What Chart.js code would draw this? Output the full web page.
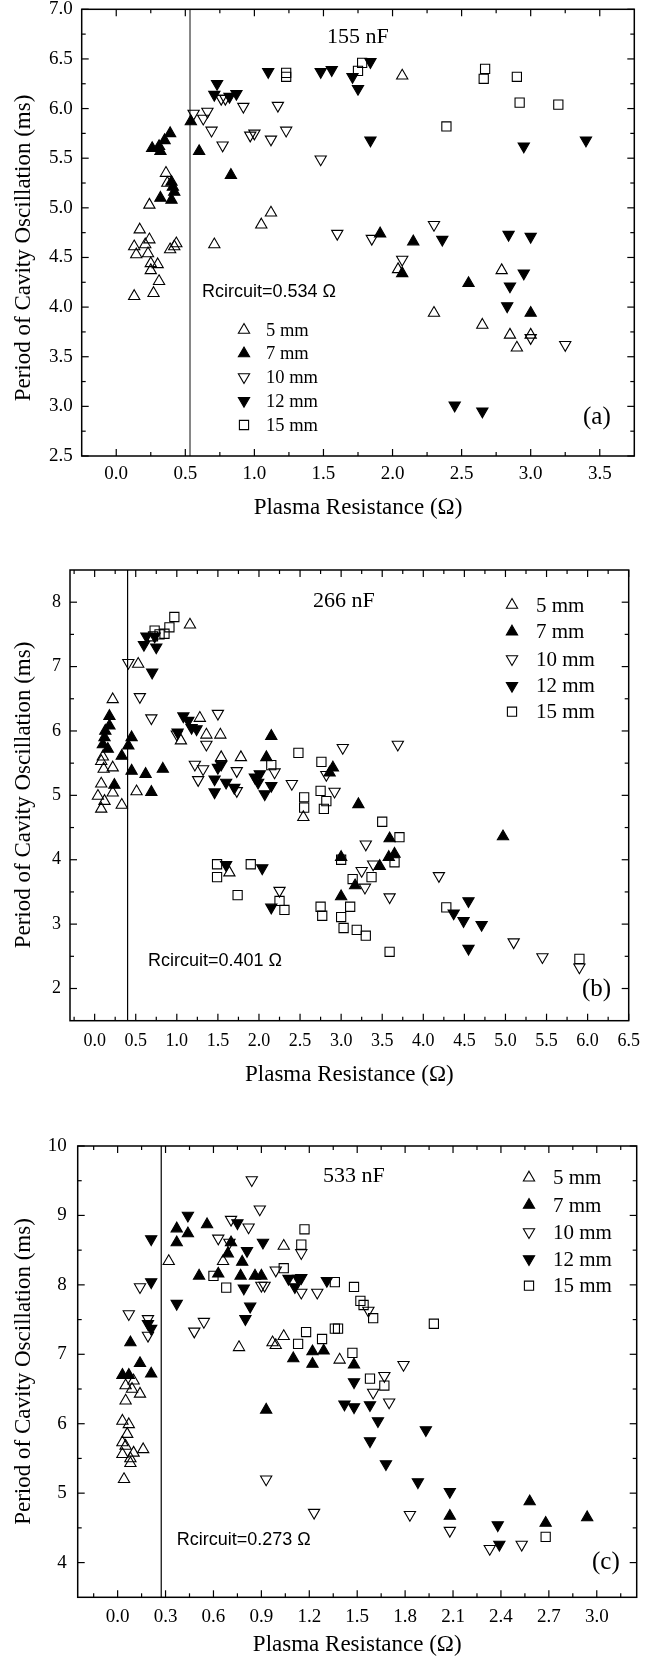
<!DOCTYPE html>
<html><head><meta charset="utf-8">
<script src="https://cdn.jsdelivr.net/npm/chart.js@4.4.1/dist/chart.umd.min.js"></script>
<style>
html,body{margin:0;padding:0;background:#fff;}
#wrap{position:relative;width:663px;height:1666px;overflow:hidden;background:#fff;}
canvas{position:absolute;left:0;top:0;}
</style></head><body><div id="wrap">
<canvas id="ca" width="663" height="1666"></canvas>
<canvas id="cb" width="663" height="1666"></canvas>
<canvas id="cc" width="663" height="1666"></canvas>
</div>
<script>
// ---------- series labels ----------
const seriesLabels = ['5 mm', '7 mm', '10 mm', '12 mm', '15 mm'];
const xTitle = 'Plasma Resistance (\u03A9)';
const yTitle = 'Period of Cavity Oscillation (ms)';

// ---------- panel (a) 155 nF ----------
const a5x = [0.13,0.145,0.17,0.21,0.24,0.23,0.24,0.25,0.25,0.30,0.36,0.37,0.39,0.42,0.435,0.13,0.27,0.31,0.71,1.05,1.12,2.07,2.04,2.30,2.65,2.79,2.85,2.90,3.00];
const a5y = [4.61,4.53,4.78,4.63,4.68,4.54,5.03,4.44,4.37,4.43,5.35,5.25,4.58,4.61,4.64,4.11,4.14,4.26,4.63,4.83,4.95,6.33,4.38,3.94,3.82,4.37,3.72,3.59,3.72];
const a7x = [0.39,0.35,0.31,0.26,0.32,0.32,0.40,0.40,0.41,0.42,0.54,0.60,0.83,1.91,2.15,2.07,2.55,3.00];
const a7y = [5.75,5.68,5.62,5.60,5.57,5.10,5.08,5.26,5.21,5.16,5.87,5.57,5.33,4.74,4.66,4.34,4.24,3.94];
const a10x = [0.56,0.63,0.66,0.69,0.77,0.76,0.79,0.92,0.97,1.00,1.12,1.17,1.23,1.48,1.60,1.85,2.30,2.07,3.00,3.25];
const a10y = [5.95,5.90,5.97,5.78,5.63,6.10,6.10,6.02,5.73,5.75,5.69,6.03,5.78,5.49,4.74,4.69,4.83,4.48,3.69,3.62];
const a12x = [0.73,0.71,0.82,0.87,1.10,1.48,1.56,1.71,1.75,1.84,1.84,2.95,3.40,2.36,2.84,3.00,2.95,2.85,2.83,2.45,2.65];
const a12y = [6.25,6.14,6.12,6.15,6.37,6.37,6.39,6.32,6.20,6.47,5.68,5.62,5.68,4.68,4.73,4.71,4.34,4.21,4.01,3.01,2.95];
const a15x = [1.23,1.23,1.78,1.75,2.67,2.66,2.90,2.92,3.20,2.39];
const a15y = [6.36,6.32,6.46,6.38,6.40,6.30,6.32,6.06,6.04,5.82];
const aXTicks = [0.0,0.5,1.0,1.5,2.0,2.5,3.0,3.5];
const aYTicks = [2.5,3.0,3.5,4.0,4.5,5.0,5.5,6.0,6.5,7.0];
const aRc = [0.534];

// ---------- panel (b) 266 nF ----------
const b5x = [0.22,0.53,1.16,1.28,1.05,1.36,1.53,1.54,1.78,0.08,0.11,0.22,0.08,0.51,0.04,0.12,0.08,0.22,0.33,2.54,1.64,0.10];
const b5y = [6.49,7.04,7.65,6.20,5.85,5.94,5.94,5.59,5.59,5.53,5.41,5.43,5.18,5.06,4.99,4.91,4.79,5.04,4.85,4.66,3.80,5.60];
const b7x = [0.18,0.18,0.13,0.12,0.10,0.16,0.45,0.41,0.33,0.45,0.62,0.83,0.24,0.69,2.15,2.09,2.90,2.86,3.00,3.00,3.21,3.59,3.65,3.58,3.47,3.17,4.97];
const b7y = [6.23,6.08,6.00,5.90,5.79,5.72,5.90,5.77,5.61,5.38,5.33,5.41,5.16,5.05,5.92,5.59,5.43,5.35,4.04,3.43,4.86,4.33,4.09,4.04,3.90,3.60,4.36];
const b10x = [0.41,0.55,0.69,1.50,1.36,1.00,1.22,1.32,1.26,1.73,1.73,2.19,2.40,2.82,2.92,3.02,3.69,2.25,3.30,3.25,3.39,3.29,3.59,4.19,5.10,5.45,5.90];
const b10y = [7.06,6.53,6.20,6.27,5.79,5.95,5.48,5.41,5.24,5.38,5.07,5.36,5.18,5.32,5.06,5.74,5.79,3.52,4.24,3.83,3.93,3.57,3.42,3.75,2.72,2.49,2.33];
const b12x = [0.63,0.60,0.73,0.75,0.70,1.08,1.14,1.18,1.24,1.01,1.54,1.50,1.46,1.60,1.70,1.95,2.01,1.99,2.15,2.07,1.46,1.60,2.04,2.15,4.55,4.37,4.49,4.71,4.55];
const b12y = [7.47,7.34,7.47,7.30,6.91,6.23,6.16,6.05,6.03,5.98,5.48,5.43,5.25,5.20,5.12,5.28,5.33,5.20,5.15,5.02,5.05,3.92,3.87,3.26,3.36,3.17,3.05,2.99,2.62];
const b15x = [0.97,0.91,0.85,0.73,0.71,0.79,2.48,2.76,2.15,2.55,2.55,2.75,2.82,2.79,1.49,1.49,1.74,1.90,2.25,2.31,2.75,2.77,3.00,3.00,3.03,3.11,3.14,3.50,3.71,3.65,3.37,3.19,3.30,3.59,4.28,5.90];
const b15y = [7.77,7.61,7.51,7.56,7.47,7.50,5.66,5.52,5.47,4.97,4.81,5.07,4.91,4.79,3.93,3.73,3.45,3.93,3.36,3.22,3.27,3.13,4.00,3.11,2.94,3.27,3.70,4.59,4.35,3.96,3.73,2.91,2.82,2.57,3.26,2.46];
const bXTicks = [0.0,0.5,1.0,1.5,2.0,2.5,3.0,3.5,4.0,4.5,5.0,5.5,6.0,6.5];
const bYTicks = [2,3,4,5,6,7,8];
const bRc = [0.401];

// ---------- panel (c) 533 nF ----------
const c5x = [0.32,0.66,1.04,0.76,0.97,0.99,1.04,1.39,0.05,0.10,0.09,0.05,0.14,0.03,0.07,0.06,0.03,0.05,0.10,0.03,0.08,0.08,0.16,0.04];
const c5y = [8.34,8.34,8.56,7.10,7.17,7.13,7.26,6.92,6.55,6.62,6.50,6.33,6.43,6.04,5.99,5.85,5.73,5.68,5.58,5.56,5.50,5.43,5.63,5.20];
const c7x = [0.37,0.37,0.44,0.56,0.51,0.63,0.69,0.71,0.78,0.77,0.86,0.90,0.08,0.14,0.03,0.07,0.21,1.10,1.22,1.22,1.29,1.48,0.93,2.08,2.58,2.68,2.94];
const c7y = [8.81,8.61,8.74,8.87,8.13,8.16,8.45,8.61,8.33,8.13,8.13,8.13,7.17,6.87,6.70,6.70,6.72,6.94,6.86,7.04,7.05,6.85,6.20,4.67,4.88,4.57,4.65];
const c10x = [0.84,0.89,0.71,0.82,0.63,0.70,1.15,0.99,0.90,0.92,1.15,1.25,0.14,0.07,0.19,0.19,0.48,0.54,1.57,1.79,1.67,1.60,1.70,1.83,2.08,2.33,2.53,0.93,1.23];
const c10y = [9.51,9.09,8.94,8.83,8.67,8.61,8.46,8.21,7.99,7.99,7.89,7.89,7.97,7.58,7.51,7.27,7.33,7.47,7.63,6.85,6.69,6.45,6.31,4.69,4.46,4.20,4.26,5.20,4.72];
const c12x = [0.21,0.21,0.19,0.21,0.37,0.44,0.75,0.81,0.91,0.79,0.83,0.80,1.07,1.13,1.15,1.11,1.31,1.48,1.42,1.48,1.58,1.63,1.58,1.68,1.93,1.88,2.08,2.38,2.39];
const c12y = [8.66,8.04,7.44,7.37,7.73,9.00,8.89,8.49,8.61,7.95,7.69,7.51,8.09,8.09,8.10,7.97,8.06,6.60,6.28,6.24,6.27,6.04,5.75,5.42,5.91,5.16,5.02,4.54,4.26];
const c15x = [0.60,0.68,1.04,1.17,1.15,1.36,1.48,1.18,1.13,1.28,1.36,1.38,1.47,1.52,1.54,1.60,1.98,1.58,1.67,2.68];
const c15y = [8.13,7.96,8.24,8.80,8.58,8.04,7.97,7.32,7.15,7.22,7.37,7.37,7.02,7.77,7.71,7.52,7.44,6.65,6.55,4.37];
const cXTicks = [0.0,0.3,0.6,0.9,1.2,1.5,1.8,2.1,2.4,2.7,3.0];
const cYTicks = [4,5,6,7,8,9,10];
const cRc = [0.273];

// ---------- styles / layout ----------
const SERIF = "'Liberation Serif','Times New Roman',serif";
const SANS = "'Liberation Sans',Arial,sans-serif";
const markerStyles = [
  {ps:'triangle', rot:0,   filled:false},
  {ps:'triangle', rot:0,   filled:true},
  {ps:'triangle', rot:180, filled:false},
  {ps:'triangle', rot:180, filled:true},
  {ps:'rect',     rot:0,   filled:false}
];
const MR = 6.5;

function zip(xs, ys){ return xs.map((v,i)=>({x:v, y:ys[i]})); }

function drawMarker(ctx, st, x, y, r){
  ctx.beginPath();
  if (st.ps === 'triangle'){
    let rad = st.rot*Math.PI/180;
    ctx.moveTo(x + Math.sin(rad)*r, y - Math.cos(rad)*r);
    rad += 2*Math.PI/3;
    ctx.lineTo(x + Math.sin(rad)*r, y - Math.cos(rad)*r);
    rad += 2*Math.PI/3;
    ctx.lineTo(x + Math.sin(rad)*r, y - Math.cos(rad)*r);
    ctx.closePath();
  } else {
    const s = Math.SQRT1_2*r;
    ctx.rect(x-s, y-s, 2*s, 2*s);
  }
  if (st.filled){ ctx.fillStyle='#000'; ctx.fill(); }
  ctx.stroke();
}

const decor = {
  id:'decor',
  afterDatasetsDraw(chart, args, o){
    const P = o.P; if (!P) return;
    const {ctx, chartArea:a} = chart;
    const sx = chart.scales.x, sy = chart.scales.y;
    ctx.save();
    ctx.strokeStyle = '#000';
    ctx.lineWidth = 1.5;
    ctx.strokeRect(a.left, a.top, a.right-a.left, a.bottom-a.top);
    ctx.lineWidth = 1.2;
    const ln = (x1,y1,x2,y2)=>{ctx.beginPath();ctx.moveTo(x1,y1);ctx.lineTo(x2,y2);ctx.stroke();};
    const minors = (t, lo, hi)=>{
      const out=[]; const st=t[1]-t[0];
      const first=t[0]-st/2; if(first>lo) out.push(first);
      for(let i=0;i<t.length-1;i++) out.push((t[i]+t[i+1])/2);
      const last=t[t.length-1]+st/2; if(last<hi) out.push(last);
      return out;
    };
    const MJ=7, MN=4;
    const xt = (v,len)=>{const p=sx.getPixelForValue(v); ln(p,a.top,p,a.top+len); ln(p,a.bottom,p,a.bottom-len);};
    const yt = (v,len)=>{const p=sy.getPixelForValue(v); ln(a.left,p,a.left+len,p); ln(a.right,p,a.right-len,p);};
    P.xTicks.forEach(v=>xt(v,MJ));
    minors(P.xTicks, P.xMin, P.xMax).forEach(v=>xt(v,MN));
    P.yTicks.forEach(v=>yt(v,MJ));
    minors(P.yTicks, P.yMin, P.yMax).forEach(v=>yt(v,MN));
    // y axis title
    ctx.fillStyle='#000';
    ctx.save();
    ctx.translate(P.yTitleX, P.yTitleY);
    ctx.rotate(-Math.PI/2);
    ctx.textAlign='center';
    ctx.textBaseline='middle';
    ctx.font = '23px '+SERIF;
    ctx.fillText(yTitle, 0, 0);
    ctx.restore();
    // texts
    ctx.textBaseline='alphabetic';
    ctx.textAlign='left';
    ctx.font = '22px '+SERIF;
    ctx.fillText(P.cap, P.capX, P.capY);
    ctx.font = P.rcFont+'px '+SANS;
    ctx.fillText('Rcircuit='+P.rc[0].toFixed(3)+' \u03A9', P.rcX, P.rcY);
    ctx.font = '25px '+SERIF;
    ctx.fillText(P.tag, P.tagX, P.tagY);
    // legend
    ctx.font = P.legFont+'px '+SERIF;
    ctx.textBaseline='middle';
    ctx.lineWidth = 1.1;
    seriesLabels.forEach((lab,i)=>{
      const yy = P.legY[i];
      ctx.strokeStyle='#000';
      drawMarker(ctx, markerStyles[i], P.legSymX, yy, MR);
      ctx.fillStyle='#000';
      ctx.fillText(lab, P.legTextX, yy+1);
    });
    ctx.restore();
  }
};

function build(id, P, xsArr, ysArr){
  const datasets = [{
    label:'Rcircuit', data:[{x:P.rc[0], y:P.yMin},{x:P.rc[0], y:P.yMax}],
    showLine:true, pointRadius:0, pointHoverRadius:0, borderColor:P.rcColor, borderWidth:P.rcWidth, fill:false, order:10
  }];
  seriesLabels.forEach((lab,i)=>{
    const st = markerStyles[i];
    datasets.push({
      label:lab, data:zip(xsArr[i], ysArr[i]),
      pointStyle:st.ps, pointRotation:st.rot, pointRadius:MR, pointHoverRadius:MR,
      borderColor:'#000', borderWidth:1.1,
      backgroundColor: st.filled ? '#000' : 'rgba(255,255,255,0)',
      showLine:false, order:i
    });
  });
  new Chart(document.getElementById(id), {
    type:'scatter',
    data:{datasets},
    options:{
      responsive:false, animation:false, devicePixelRatio:1, events:[],
      layout:{padding:{left:0, top:P.T, right:663-P.R, bottom:1666-P.bottomEdge}},
      plugins:{legend:{display:false}, tooltip:{enabled:false}, decor:{P}},
      scales:{
        x:{type:'linear', min:P.xMin, max:P.xMax,
           grid:{display:false, drawTicks:false}, border:{display:false},
           ticks:{padding:P.xTickPad, color:'#000', font:{family:SERIF, size:P.tickSize}, maxRotation:0, autoSkip:false,
                  callback:(v)=>Number(v).toFixed(1)},
           afterBuildTicks:(s)=>{ s.ticks = P.xTicks.map(v=>({value:v})); },
           afterFit:(s)=>{ s.height = P.bottomEdge - P.B; s.paddingLeft=0; s.paddingRight=0; },
           title:{display:true, text:xTitle, color:'#000', font:{family:SERIF, size:23}, padding:{top:0, bottom:P.xTitlePad}}
        },
        y:{type:'linear', min:P.yMin, max:P.yMax,
           grid:{display:false, drawTicks:false}, border:{display:false},
           ticks:{padding:P.yTickPad, color:'#000', font:{family:SERIF, size:P.tickSize}, autoSkip:false,
                  callback:(v)=>P.yDec>0 ? Number(v).toFixed(P.yDec) : String(Math.round(v))},
           afterBuildTicks:(s)=>{ s.ticks = P.yTicks.map(v=>({value:v})); },
           afterFit:(s)=>{ s.width = P.L; s.paddingTop=0; s.paddingBottom=0; },
           title:{display:false, text:yTitle}
        }
      }
    },
    plugins:[decor]
  });
}

build('ca', {
  L:81.7, T:9.3, R:634.3, B:456, bottomEdge:530,
  xMin:-0.25, xMax:3.75, yMin:2.5, yMax:7.0, xTicks:aXTicks, yTicks:aYTicks, yDec:1,
  tickSize:19, xTickPad:7, yTickPad:9, xTitlePad:8, yTitleX:23.5, yTitleY:248,
  rc:aRc, rcColor:'#7a7a7a', rcWidth:1.8, rcFont:18,
  cap:'155 nF', capX:327, capY:43.3, rcX:202, rcY:296.7, tag:'(a)', tagX:583, tagY:424,
  legSymX:244, legTextX:266, legY:[330,353.5,377,400.7,425], legFont:18.5
}, [a5x,a7x,a10x,a12x,a15x], [a5y,a7y,a10y,a12y,a15y]);

build('cb', {
  L:70, T:570, R:628.7, B:1020.7, bottomEdge:1100,
  xMin:-0.3, xMax:6.5, yMin:1.5, yMax:8.5, xTicks:bXTicks, yTicks:bYTicks, yDec:0,
  tickSize:18, xTickPad:9.5, yTickPad:9, xTitlePad:11, yTitleX:23.5, yTitleY:795,
  rc:bRc, rcColor:'#000', rcWidth:1.2, rcFont:18,
  cap:'266 nF', capX:313, capY:606.7, rcX:148, rcY:966, tag:'(b)', tagX:582, tagY:996,
  legSymX:512, legTextX:536, legY:[605,631.7,659,685.7,711.7], legFont:21
}, [b5x,b7x,b10x,b12x,b15x], [b5y,b7y,b10y,b12y,b15y]);

build('cc', {
  L:77.7, T:1146, R:636.7, B:1597.3, bottomEdge:1666,
  xMin:-0.25, xMax:3.25, yMin:3.5, yMax:10, xTicks:cXTicks, yTicks:cYTicks, yDec:0,
  tickSize:19, xTickPad:8, yTickPad:11, xTitlePad:7, yTitleX:23.5, yTitleY:1371.5,
  rc:cRc, rcColor:'#000', rcWidth:1.2, rcFont:18,
  cap:'533 nF', capX:323, capY:1181.7, rcX:176.7, rcY:1545, tag:'(c)', tagX:592, tagY:1569,
  legSymX:529, legTextX:553, legY:[1177.7,1205,1232,1259,1285.7], legFont:21
}, [c5x,c7x,c10x,c12x,c15x], [c5y,c7y,c10y,c12y,c15y]);
</script>
</body></html>
